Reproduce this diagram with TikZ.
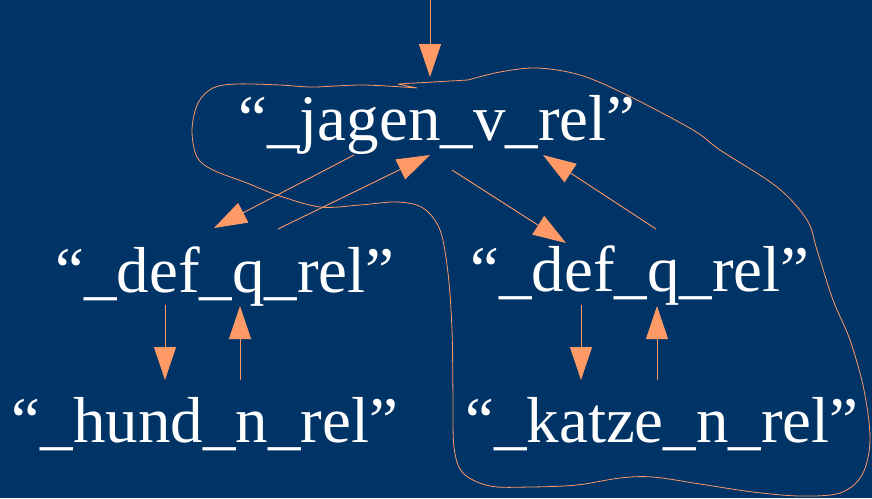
\documentclass[tikz,border=0pt]{standalone}
\usepackage{fontspec}
\setmainfont{Liberation Serif}
\usetikzlibrary{arrows.meta,calc}
\definecolor{bgblue}{RGB}{0,51,102}
\definecolor{peach}{RGB}{255,153,102}
\tikzset{
  pred/.style={text=white, inner sep=0pt, anchor=base, font=\fontsize{65}{70}\selectfont},
  arr/.style={draw=peach, line width=0.9pt, -{Triangle[length=33pt,width=22pt,fill=peach]}},
  loop/.style={draw=peach, line width=0.8pt, line join=round}
}
\begin{document}
\begin{tikzpicture}[x=1pt,y=-1pt]
  \fill[bgblue] (0,0) rectangle (872,498);
  \useasboundingbox (0,0) rectangle (872,498);

  % predicate nodes
  \node[pred] (jag) at (437,140) {“\_jagen\_v\_rel”};
  \node[pred] (dl)  at (225,292) {“\_def\_q\_rel”};
  \node[pred] (dr)  at (640,291) {“\_def\_q\_rel”};
  \node[pred] (hun) at (205,442) {“\_hund\_n\_rel”};
  \node[pred] (kat) at (662,442) {“\_katze\_n\_rel”};
  \coordinate (top) at (430,0);

  % connectors
  \draw[arr] (top) -- ($(jag.base)+(-7,-63)$);
  \draw[arr] ($(jag.base)+(-83,15)$) -- ($(dl.base)+(-11,-64)$);
  \draw[arr] ($(dl.base)+(53,-63)$) -- ($(jag.base)+(-7,15)$);
  \draw[arr] ($(jag.base)+(15,30)$) -- ($(dr.base)+(-74,-48)$);
  \draw[arr] ($(dr.base)+(16,-62)$) -- ($(jag.base)+(106,15)$);
  \draw[arr] ($(dl.base)+(-60,13)$) -- ($(hun.base)+(-40,-62)$);
  \draw[arr] ($(hun.base)+(35,-62)$) -- ($(dl.base)+(15,14)$);
  \draw[arr] ($(dr.base)+(-59,14)$) -- ($(kat.base)+(-81,-62)$);
  \draw[arr] ($(kat.base)+(-5,-62)$) -- ($(dr.base)+(17,15)$);

  % hand-drawn outline round the verb and the right branch
  \draw[loop] (417,88) -- (398,84) -- (468,80)
    plot[smooth, tension=0.55] coordinates {
      (468,80) (500,72) (537,68) (580,75) (627,95) (693,130) (720,150)
      (777,187) (807,220) (817,250) (833,300) (850,340) (864,390)
      (870,440) (862,475) (840,493) (800,496) (753,492) (700,484)
      (653,477) (620,478) (577,485) (530,487) (490,486) (463,473)
      (454,447) (453,397) (452,330) (448,273) (440,230) (423,208)
      (397,202) (360,205) (320,207) (277,195) (247,183) (213,170)
      (197,157) (192,130) (198,103) (213,88) (237,84) (280,85)
      (313,87) (363,85) (417,88)};
\end{tikzpicture}
\end{document}
